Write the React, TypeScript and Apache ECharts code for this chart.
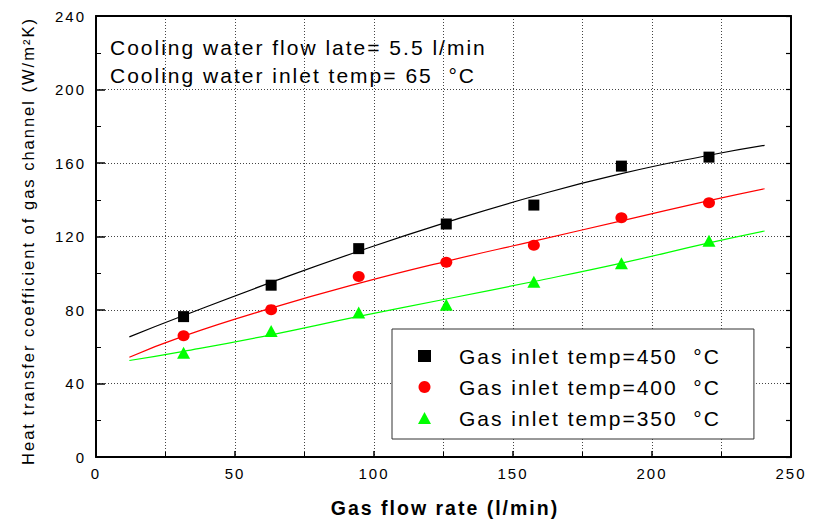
import React, { useEffect, useRef } from "react";
import * as echarts from "echarts";

// Measured heat transfer coefficient of the gas channel, W/(m²·K)
const flowRate = [31.5, 63, 94.5, 126, 157.5, 189, 220.5];
const h450 = [76.4, 93.5, 113.4, 126.8, 137.1, 158.3, 163.2];
const h400 = [66.0, 80.2, 98.2, 106.0, 115.2, 130.2, 138.4];
const h350 = [56.8, 68.6, 78.6, 82.8, 95.4, 105.4, 117.7];

// Fitted trend curves
const fitX = [12, 31.5, 63, 94.5, 126, 157.5, 189, 220.5, 240.5];
const fit450 = [65.4, 77, 95, 112, 127.7, 141.9, 154.2, 164.2, 169.6];
const fit400 = [54.3, 65.8, 81, 94.5, 106.5, 117.5, 128.5, 139.5, 146];
const fit350 = [52.5, 57.5, 66.5, 76.5, 86, 95.5, 105.5, 116.5, 123];

const seriesNames = [
  "Gas inlet temp=450  °C",
  "Gas inlet temp=400  °C",
  "Gas inlet temp=350  °C",
];

const xTitle = "Gas flow rate (l/min)";
const yTitle = "Heat transfer coefficient of gas channel (W/m²K)";
const noteLines = [
  "Cooling water flow late= 5.5 l/min",
  "Cooling water inlet temp= 65  °C",
];

const FONT = '"Liberation Sans", Arial, Helvetica, sans-serif';
const BLACK = "#000000";
const RED = "#ff0000";
const GREEN = "#00ff00";

const pairs = (xs: number[], ys: number[]) => xs.map((x, i) => [x, ys[i]]);

const gridDots = { color: "#444", type: [1, 2] as number[], width: 1 };

export default function App() {
  const ref = useRef<HTMLDivElement>(null);

  useEffect(() => {
    if (!ref.current) return;
    const chart = echarts.init(ref.current, undefined, { renderer: "svg" });

    const fitLine = (data: number[], color: string) => ({
      type: "line",
      data: pairs(fitX, data),
      smooth: true,
      showSymbol: false,
      silent: true,
      z: 2,
      lineStyle: { color, width: 1.2 },
    });

    const points = (name: string, data: number[], color: string, symbol: string, size: any) => ({
      type: "scatter",
      name,
      data: pairs(flowRate, data),
      symbol,
      symbolSize: size,
      z: 3,
      itemStyle: { color, opacity: 1 },
    });

    chart.setOption({
      animation: false,
      backgroundColor: "#ffffff",
      grid: { left: 96, right: 24, top: 16, bottom: 67 },
      xAxis: [
        {
          type: "value",
          min: 0,
          max: 250,
          interval: 50,
          position: "bottom",
          axisLine: { show: true, onZero: false, lineStyle: { color: BLACK, width: 2 } },
          axisTick: { show: true, inside: true, length: 6, lineStyle: { color: BLACK, width: 1.5 } },
          minorTick: { show: true, splitNumber: 2, length: 5, lineStyle: { color: BLACK, width: 1 } },
          axisLabel: { margin: 9, fontSize: 15, color: BLACK, fontFamily: FONT },
          splitLine: { show: true, lineStyle: gridDots },
          minorSplitLine: { show: true, lineStyle: gridDots },
        },
        {
          type: "value",
          min: 0,
          max: 250,
          interval: 50,
          position: "top",
          axisLine: { show: true, onZero: false, lineStyle: { color: BLACK, width: 2 } },
          axisTick: { show: false },
          axisLabel: { show: false },
          splitLine: { show: false },
        },
      ],
      yAxis: [
        {
          type: "value",
          min: 0,
          max: 240,
          interval: 40,
          position: "left",
          axisLine: { show: true, onZero: false, lineStyle: { color: BLACK, width: 2 } },
          axisTick: { show: true, inside: true, length: 9, lineStyle: { color: BLACK, width: 1.5 } },
          minorTick: { show: true, splitNumber: 2, length: 5, lineStyle: { color: BLACK, width: 1 } },
          axisLabel: { margin: 10, fontSize: 15, color: BLACK, fontFamily: FONT },
          splitLine: { show: true, lineStyle: gridDots },
          minorSplitLine: { show: false },
        },
        {
          type: "value",
          min: 0,
          max: 240,
          interval: 20,
          position: "right",
          axisLine: { show: true, onZero: false, lineStyle: { color: BLACK, width: 2 } },
          axisTick: { show: true, inside: true, length: 5, lineStyle: { color: BLACK, width: 1.2 } },
          axisLabel: { show: false },
          splitLine: { show: false },
        },
      ],
      legend: {
        orient: "vertical",
        left: 392,
        top: 329,
        padding: [15, 77, 9, 26],
        itemWidth: 13,
        itemHeight: 12,
        itemGap: 7,
        backgroundColor: "#ffffff",
        borderColor: "#333",
        borderWidth: 1,
        selectedMode: false,
        data: [
          { name: seriesNames[0], icon: "rect" },
          { name: seriesNames[1], icon: "circle" },
          { name: seriesNames[2], icon: "triangle" },
        ],
        textStyle: {
          fontSize: 21,
          lineHeight: 24,
          color: BLACK,
          fontFamily: FONT,
          padding: [0, 0, 0, 23],
        },
      },
      graphic: [
        {
          type: "text",
          x: 110,
          y: 47,
          style: { text: noteLines[0], font: `21px ${FONT}`, fill: BLACK, align: "left", verticalAlign: "middle" },
        },
        {
          type: "text",
          x: 110,
          y: 75,
          style: { text: noteLines[1], font: `21px ${FONT}`, fill: BLACK, align: "left", verticalAlign: "middle" },
        },
        {
          type: "text",
          x: 28,
          y: 241,
          rotation: Math.PI / 2,
          style: { text: yTitle, font: `16.5px ${FONT}`, fill: BLACK, align: "center", verticalAlign: "middle" },
        },
        {
          type: "text",
          x: 445,
          y: 508,
          style: { text: xTitle, font: `bold 19.5px ${FONT}`, fill: BLACK, align: "center", verticalAlign: "middle" },
        },
      ],
      series: [
        fitLine(fit450, BLACK),
        fitLine(fit400, RED),
        fitLine(fit350, GREEN),
        points(seriesNames[0], h450, BLACK, "rect", 11),
        points(seriesNames[1], h400, RED, "circle", [12, 11]),
        points(seriesNames[2], h350, GREEN, "triangle", [13, 12]),
      ],
    });

    return () => chart.dispose();
  }, []);

  return (
    <>
      <style>{`#hx-chart text { letter-spacing: 2px; }`}</style>
      <div
        id="hx-chart"
        ref={ref}
        style={{ position: "fixed", left: 0, top: 0, width: 815, height: 524, background: "#fff" }}
      />
    </>
  );
}
